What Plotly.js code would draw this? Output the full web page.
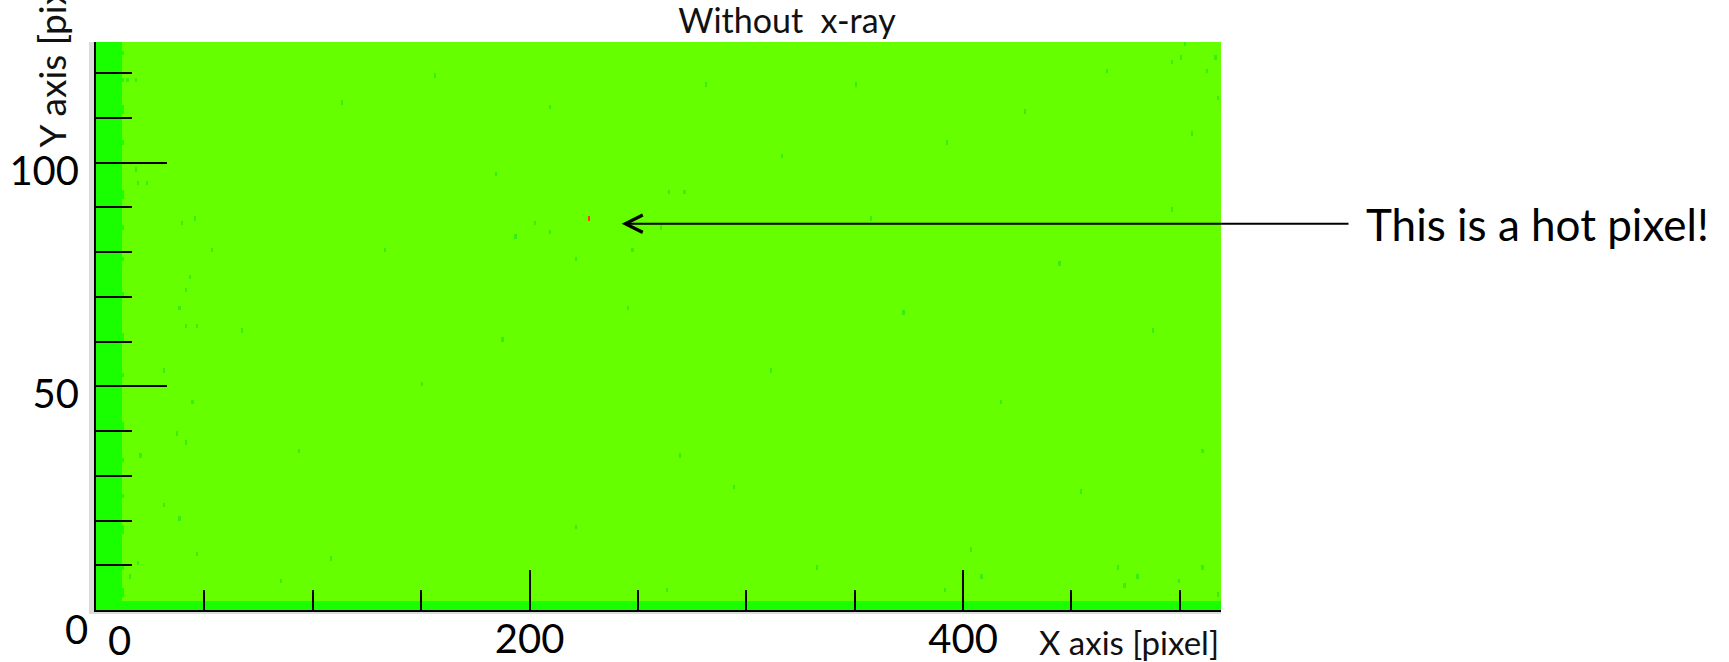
<!DOCTYPE html>
<html>
<head>
<meta charset="utf-8">
<script src="https://cdn.plot.ly/plotly-3.0.1.min.js"></script>
<style>
html,body{margin:0;padding:0;background:#ffffff;}
#chart{width:1729px;height:662px;}
</style>
</head>
<body>
<div id="chart"></div>
<script>
// ---- data ----
const nCols = 519;            // pixel columns (x axis)
const nRows = 127;            // pixel rows (y axis)

const xTickVals = [200, 400];
const xTickText = ['200', '400'];
const xMinorTickVals = [50, 100, 150, 250, 300, 350, 450, 500];
const yTickVals = [50, 100];
const yTickText = ['50', '100'];
const yMinorTickVals = [10, 20, 30, 40, 60, 70, 80, 90, 110, 120];

// levels: 0 = dim pixel, 1 = edge band, 2 = normal pixel, 3 = hot pixel
const levelColors = ['#38ec14', '#19ff00', '#66ff00', '#ff3c00'];
const normalLevel = 2;
const bandLevel = 1;
const dimLevel = 0;
const hotLevel = 3;

const leftBandWidth = 12;                       // columns of the darker left band
const leftBandWideRows = [3, 4, 9, 17, 18, 25, 33, 40, 41, 52, 60, 61, 70, 78, 85, 92, 93, 104, 111, 112, 118, 124];
const bottomBandRows = 2;                       // darker rows along the bottom

const dimPixelsX = [202, 209, 193, 260, 264, 271, 247, 221, 502, 496, 500, 516, 512, 517, 499, 517, 391, 408, 471, 480, 510,
  18, 18, 23, 45, 39, 53, 43, 41, 38, 46, 41, 31, 44, 37, 41, 20, 31, 46, 19, 14, 19, 15, 85,
  113, 156, 209, 281, 316, 350, 392, 428, 466, 496, 150, 187, 269, 311, 372, 417, 454, 487, 38, 108, 221, 263, 332, 403, 474, 510,
  133, 184, 357, 444, 505, 67, 93, 245, 294];
const dimPixelsY = [86, 84, 83, 85, 93, 93, 80, 78, 126, 122, 123, 123, 120, 114, 6, 3, 4, 7, 9, 7, 9,
  118, 98, 95, 87, 86, 80, 74, 71, 67, 63, 63, 53, 46, 39, 37, 34, 23, 12, 10, 118, 95, 7, 6,
  113, 119, 112, 117, 101, 117, 104, 111, 120, 89, 50, 60, 34, 53, 66, 46, 26, 62, 20, 11, 18, 4, 9, 13, 5, 35,
  80, 97, 87, 77, 106, 62, 35, 67, 27];

const hotPixelX = 227;
const hotPixelY = 87;

// ---- build the pixel map ----
const z = [];
for (let r = 0; r < nRows; r++) {
  const row = [];
  const w = leftBandWideRows.includes(r) ? leftBandWidth + 1 : leftBandWidth;
  for (let c = 0; c < nCols; c++) {
    row.push((c < w || r < bottomBandRows) ? bandLevel : normalLevel);
  }
  z.push(row);
}
for (let i = 0; i < dimPixelsX.length; i++) {
  z[dimPixelsY[i]][dimPixelsX[i]] = dimLevel;
}
z[hotPixelY][hotPixelX] = hotLevel;

const colorscale = levelColors.map((c, i) => [i / (levelColors.length - 1), c]);

const trace = {
  type: 'heatmap',
  z: z,
  x0: 0.5, dx: 1,
  y0: 0.5, dy: 1,
  zmin: 0, zmax: levelColors.length - 1,
  colorscale: colorscale,
  showscale: false,
  zsmooth: false,
  hoverinfo: 'skip'
};

// ---- layout geometry helpers (pixels -> paper) ----
const L = 96, R = 1221, T = 42, B = 610;
const xp = px => (px - L) / (R - L);
const yp = py => (B - py) / (B - T);

const FONT = 'Lato, "Open Sans", sans-serif';

const layout = {
  width: 1729,
  height: 662,
  autosize: false,
  margin: {l: L, r: 1729 - R, t: T, b: 662 - B, pad: 0},
  paper_bgcolor: '#ffffff',
  plot_bgcolor: '#ffffff',
  showlegend: false,
  font: {family: FONT, color: '#000000'},
  title: {
    text: 'Without\u00a0 x-ray',
    font: {family: FONT, size: 34, color: '#111111'},
    xref: 'container', x: 787 / 1729, xanchor: 'center',
    yref: 'container', y: 1 - 21 / 662, yanchor: 'middle'
  },
  xaxis: {
    range: [0, nCols],
    showgrid: false, zeroline: false,
    showline: true, linecolor: '#000000', linewidth: 2,
    ticks: 'inside', ticklen: 40, tickwidth: 2, tickcolor: '#000000',
    tickmode: 'array', tickvals: xTickVals, ticktext: xTickText,
    tickfont: {family: FONT, size: 40, color: '#000000'},
    ticklabelstandoff: -7,
    minor: {tickmode: 'array', tickvals: xMinorTickVals, ticks: 'inside', ticklen: 20, tickwidth: 2, tickcolor: '#000000', showgrid: false},
    fixedrange: true
  },
  yaxis: {
    range: [0, nRows],
    showgrid: false, zeroline: false,
    showline: true, linecolor: '#000000', linewidth: 2,
    ticks: 'inside', ticklen: 71, tickwidth: 2, tickcolor: '#000000',
    tickmode: 'array', tickvals: yTickVals, ticktext: yTickText,
    tickfont: {family: FONT, size: 40, color: '#000000'},
    ticklabelstandoff: 7,
    ticklabelshift: 8,
    minor: {tickmode: 'array', tickvals: yMinorTickVals, ticks: 'inside', ticklen: 36, tickwidth: 2, tickcolor: '#000000', showgrid: false},
    fixedrange: true
  },
  shapes: [
    {type: 'rect', xref: 'paper', yref: 'paper', layer: 'below',
     x0: xp(89), x1: 1, y0: yp(614), y1: 1,
     fillcolor: '#dcdcdc', line: {width: 0}}
  ],
  annotations: [
    {text: 'Y axis [pixel]', textangle: -90, showarrow: false,
     xref: 'paper', yref: 'paper', x: xp(51), y: yp(150), xanchor: 'center', yanchor: 'bottom',
     font: {family: FONT, size: 37, color: '#111111'}},
    {text: '0', showarrow: false, xref: 'paper', yref: 'paper',
     x: xp(76), y: yp(629), xanchor: 'center', yanchor: 'middle',
     font: {family: FONT, size: 40, color: '#000000'}},
    {text: '0', showarrow: false, xref: 'paper', yref: 'paper',
     x: xp(119), y: yp(640), xanchor: 'center', yanchor: 'middle',
     font: {family: FONT, size: 40, color: '#000000'}},
    {text: 'X axis [pixel]', showarrow: false, xref: 'paper', yref: 'paper',
     x: xp(1221), y: yp(642), xanchor: 'right', yanchor: 'middle',
     font: {family: FONT, size: 33, color: '#111111'}},
    {text: 'This is a hot pixel!', showarrow: false, xref: 'paper', yref: 'paper',
     x: xp(1364), y: yp(224), xanchor: 'left', yanchor: 'middle',
     font: {family: FONT, size: 44, color: '#000000'}},
    {text: '', showarrow: true, xref: 'x', yref: 'y',
     x: (621.7 - L) / ((R - L) / nCols), y: (B - 223.7) / ((B - T) / nRows),
     ax: 1350 - 621.7, ay: 0,
     arrowhead: 5, arrowsize: 1.7, arrowwidth: 2, arrowcolor: '#000000', standoff: 0}
  ]
};

Plotly.newPlot('chart', [trace], layout, {staticPlot: true, displayModeBar: false});
</script>
</body>
</html>
